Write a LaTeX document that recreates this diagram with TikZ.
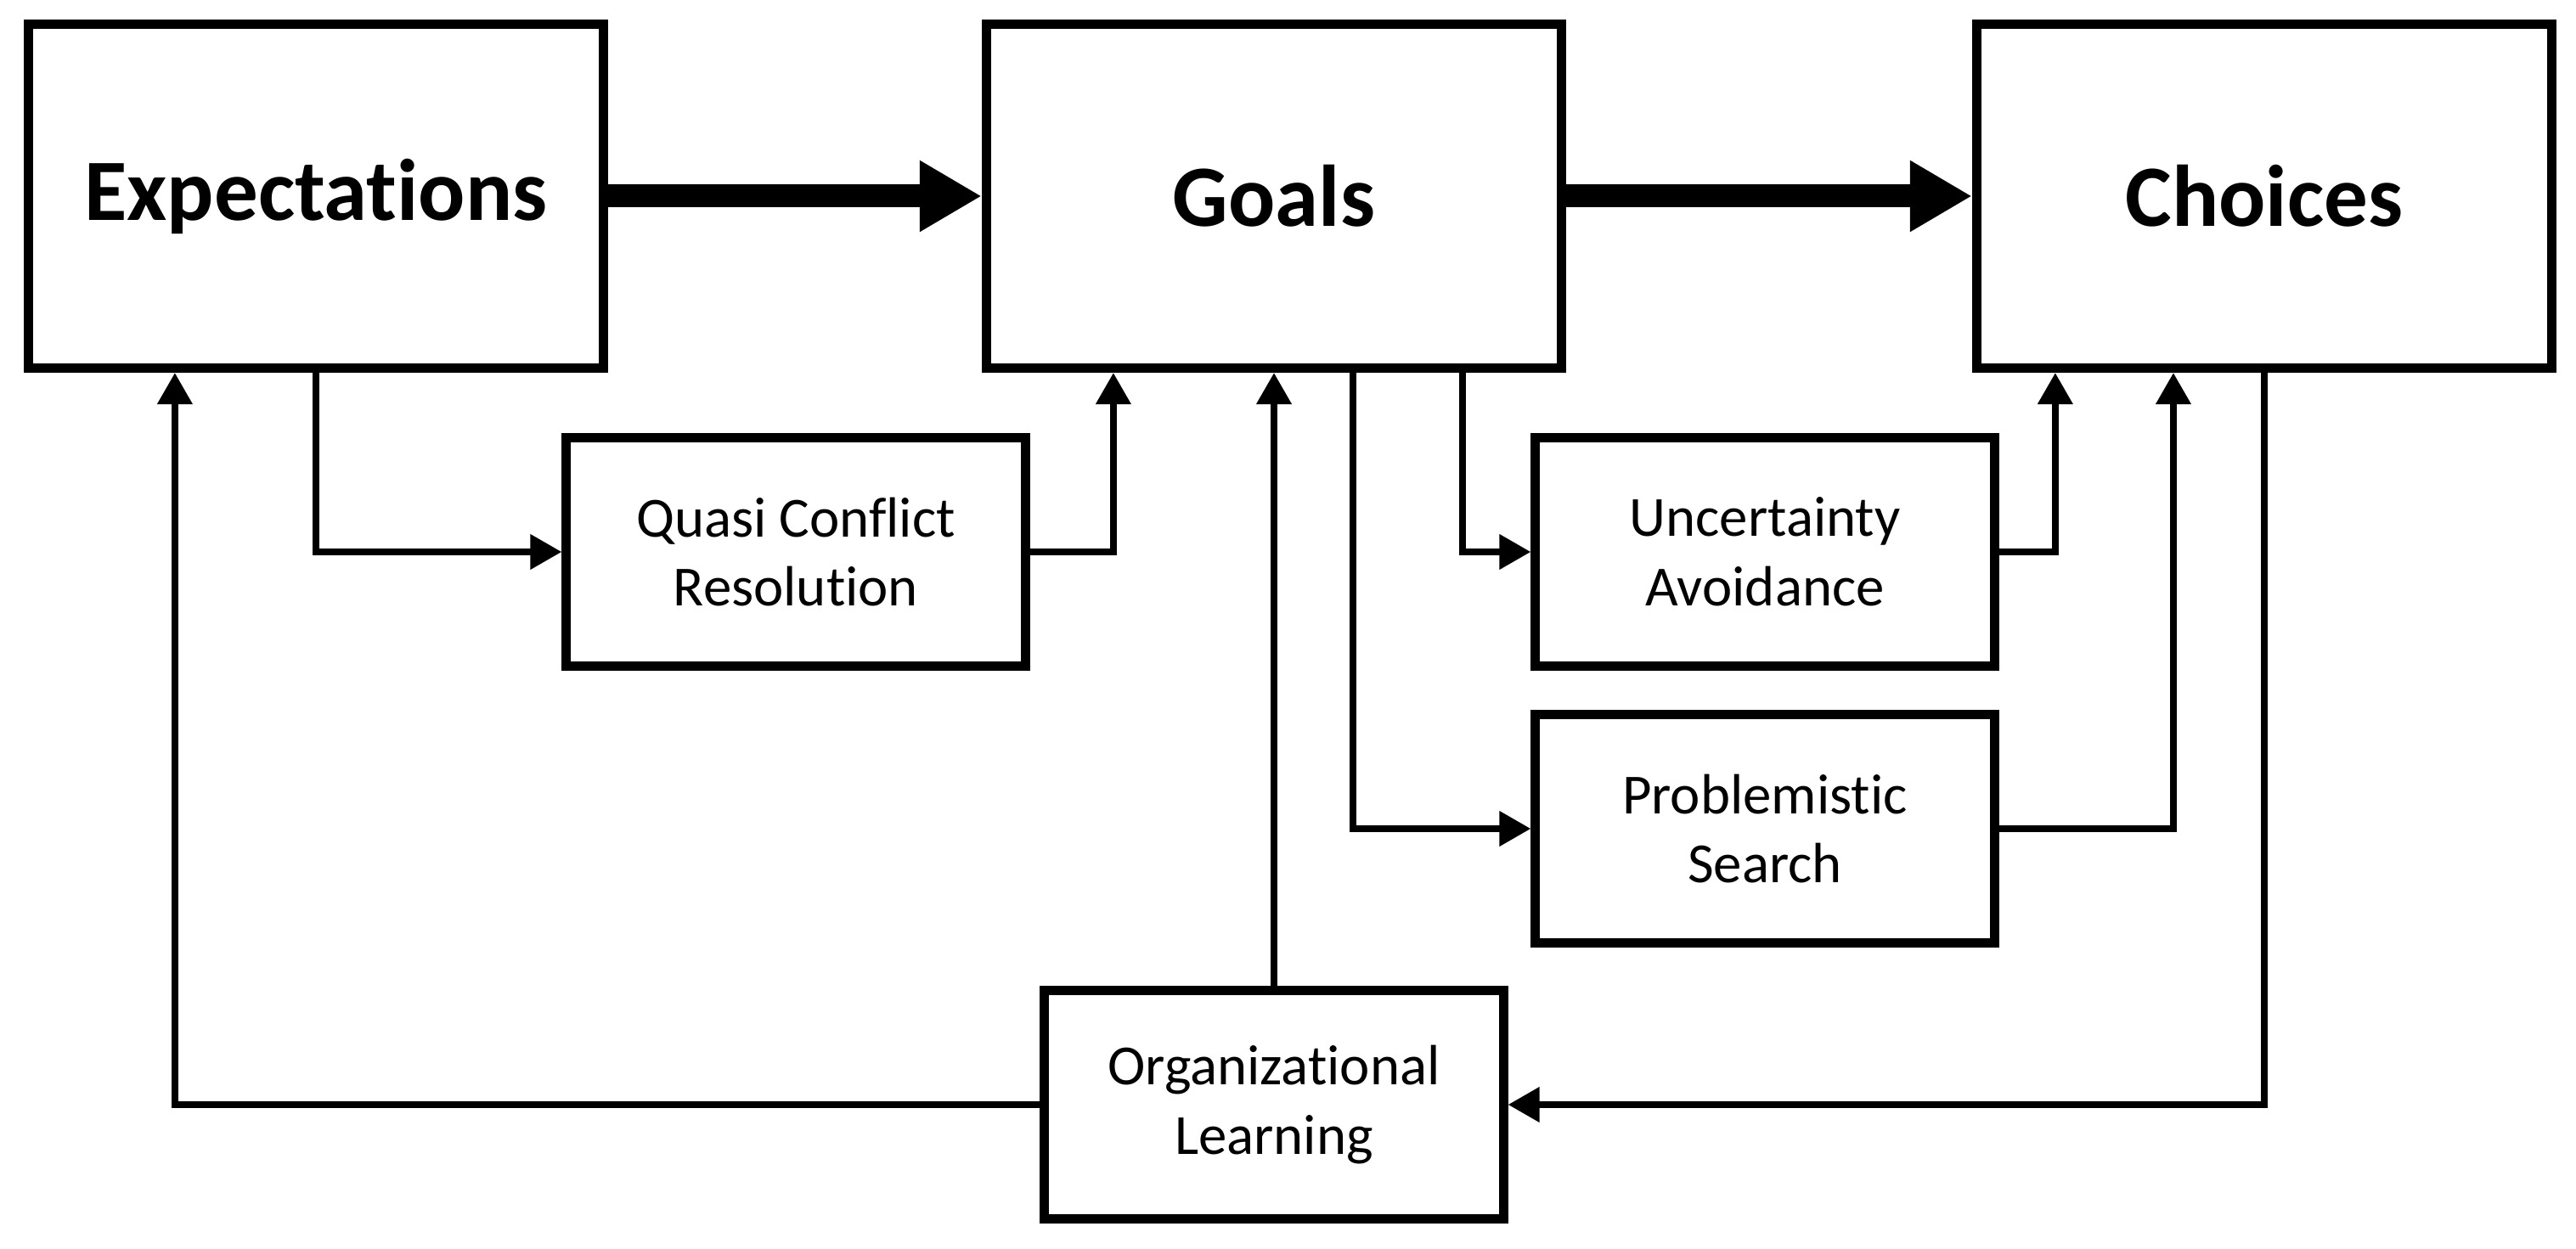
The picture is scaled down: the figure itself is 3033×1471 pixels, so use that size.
\documentclass[tikz,border=0pt]{standalone}
\usepackage{fontspec}
\setmainfont[Ligatures={NoCommon}]{Carlito}
\usetikzlibrary{arrows.meta,calc}
\begin{document}
\begin{tikzpicture}[x=0.01cm,y=-0.01cm,
  bigbox/.style={draw, line width=0.11cm, minimum width=6.77cm, minimum height=4.05cm, inner sep=0pt, font=\fontsize{29.3}{35}\selectfont\bfseries},
  smallbox/.style={draw, line width=0.11cm, minimum width=5.40cm, minimum height=2.68cm, inner sep=0pt, align=center, font=\fontsize{19}{23.2}\selectfont},
  conn/.style={line width=0.075cm, -{Triangle[length=0.37cm,width=0.40cm]}},
  fatarrow/.style={line width=0.27cm, -{Triangle[length=0.73cm,width=0.79cm]}}]
\useasboundingbox (0,0) rectangle (3033,1471);
\node[bigbox] (E) at (372,231) {Expectations};
\node[bigbox] (G) at (1500,231) {Goals};
\node[bigbox] (C) at (2666,231) {Choices};
\node[smallbox] (Q) at (937,650) {Quasi Conflict\\Resolution};
\node[smallbox] (U) at (2078,650) {Uncertainty\\Avoidance};
\node[smallbox] (P) at (2078,976) {Problemistic\\Search};
\node[smallbox] (O) at (1500,1301) {Organizational\\Learning};
\draw[fatarrow] (E) -- (G);
\draw[fatarrow] (G) -- (C);
\draw[conn] (E.south) |- (Q.west);
\draw[conn] (Q.east) -| ([xshift=-1.89cm]G.south);
\draw[conn] (O.north) -- (G.south);
\draw[conn] ([xshift=0.93cm]G.south) |- (P.west);
\draw[conn] ([xshift=2.22cm]G.south) |- (U.west);
\draw[conn] (U.east) -| ([xshift=-2.46cm]C.south);
\draw[conn] (P.east) -| ([xshift=-1.07cm]C.south);
\draw[conn] (C.south) |- (O.east);
\draw[conn] (O.west) -| ([xshift=-1.66cm]E.south);
\end{tikzpicture}
\end{document}
